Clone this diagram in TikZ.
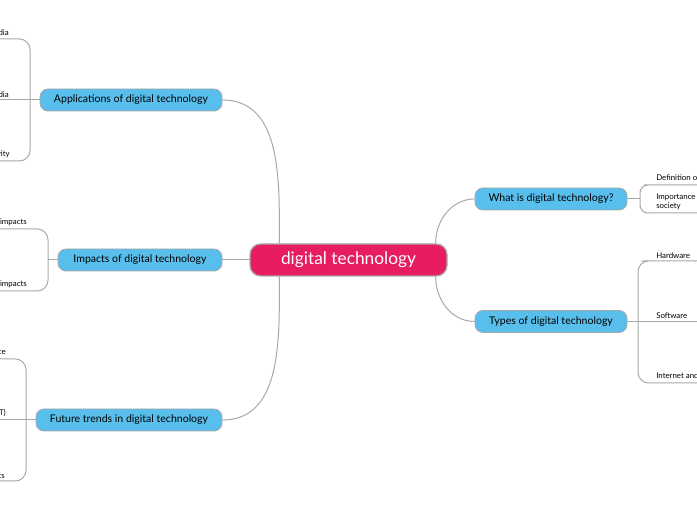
\documentclass[tikz,border=0pt]{standalone}
\usepackage{fontspec}
\setmainfont{Lato}
\usetikzlibrary{positioning}
\definecolor{RootRed}{RGB}{232,28,98}
\definecolor{BranchBlue}{RGB}{88,190,236}
\definecolor{EdgeGray}{RGB}{168,168,168}

\begin{document}
\begin{tikzpicture}[x=0.75pt, y=-0.75pt,
    root/.style={draw=EdgeGray, line width=1pt, fill=RootRed, text=white,
      rounded corners=8pt, minimum width=147.75pt, minimum height=24pt,
      font=\fontsize{13}{15}\selectfont},
    branch/.style={draw=EdgeGray, line width=0.6pt, fill=BranchBlue, text=black,
      rounded corners=6pt, minimum height=16.5pt, inner sep=0pt,
      font=\fontsize{7.9}{9}\selectfont},
    leaf/.style={inner xsep=3pt, inner ysep=2pt, align=left,
      font=\fontsize{5.9}{6.8}\selectfont},
    link/.style={draw=EdgeGray, line width=0.75pt},
    bracket/.style={link, rounded corners=8pt}]

  \useasboundingbox (0,0) rectangle (697,520);
  \clip (0,0) rectangle (697,520);

  % Central topic
  \node[root] (root) at (348.5,260) {digital technology};

  % Main branches
  \node[branch, minimum width=136.5pt] (app) at (131,100) {Applications of digital technology};
  \node[branch, minimum width=123pt] (imp) at (140,260) {Impacts of digital technology};
  \node[branch, minimum width=139.5pt] (fut) at (129,420) {Future trends in digital technology};
  \node[branch, minimum width=114pt] (what) at (551,199) {What is digital technology?};
  \node[branch, minimum width=114pt] (types) at (551,321.5) {Types of digital technology};

  \draw[link] ([xshift=22.5pt]root.north west) to[out=90, in=0] (app.east);
  \draw[link] (root.west) -- (imp.east);
  \draw[link] ([xshift=22.5pt]root.south west) to[out=-90, in=0] (fut.east);
  \draw[link] ([xshift=-9pt]root.north east) to[out=90, in=180] (what.west);
  \draw[link] ([xshift=-9pt]root.south east) to[out=-90, in=180] (types.west);

  % Applications
  \coordinate (appj) at (30,100);
  \node[leaf, anchor=south east] (app1) at (13,39) {Communication and social media};
  \node[leaf, anchor=south east] (app2) at (13,100) {Entertainment and media};
  \node[leaf, anchor=south east] (app3) at (14,161) {Business and productivity};
  \draw[bracket] (app1.south west) -| (appj) |- (app3.south west);
  \draw[link] (app2.south west) -- (app.west);

  % Impacts
  \coordinate (impj) at (48,260);
  \node[leaf, anchor=south east] (imp1) at (31,229) {Positive impacts};
  \node[leaf, anchor=south east] (imp2) at (31,291) {Negative impacts};
  \draw[bracket] (imp1.south west) -| (impj) |- (imp2.south west);
  \draw[link] (impj) -- (imp.west);

  % Future trends
  \coordinate (futj) at (26,420);
  \node[leaf, anchor=south east] (fut1) at (10,359) {Artificial intelligence};
  \node[leaf, anchor=south east] (fut2) at (10,420) {Internet of Things (IoT)};
  \node[leaf, anchor=south east] (fut3) at (9,481) {Robotics};
  \draw[bracket] (fut1.south west) -| (futj) |- (fut3.south west);
  \draw[link] (fut2.south west) -- (fut.west);

  % What is digital technology?
  \coordinate (whatj) at (640,199);
  \node[leaf, anchor=south west] (what1) at (652,185) {Definition of digital technology};
  \node[leaf, anchor=south west] (what2) at (652,213) {Importance of digital technology in\\society};
  \draw[bracket, rounded corners=6pt] (what1.south east) -- (what1.south west) -| (whatj) |- (what2.south east);
  \draw[link] (what.east) -- (whatj);

  % Types of digital technology
  \coordinate (typesj) at (638,321.5);
  \node[leaf, anchor=south west] (types1) at (652,261) {Hardware};
  \node[leaf, anchor=south west] (types2) at (652,321.5) {Software};
  \node[leaf, anchor=south west] (types3) at (652,383) {Internet and networking};
  \draw[bracket] (697,261) -- (types1.south west) -| (typesj) |- (697,383);
  \draw[link] (types.east) -- (697,321.5);
\end{tikzpicture}
\end{document}
